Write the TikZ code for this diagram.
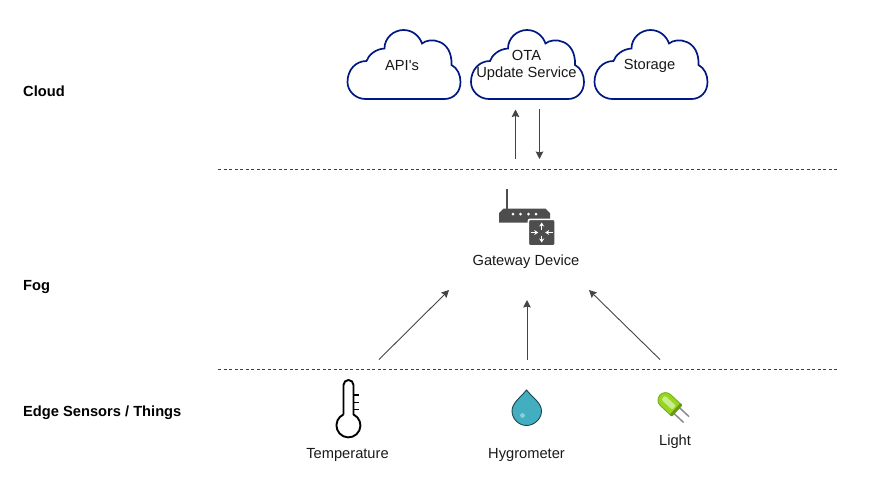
\documentclass[tikz,border=0pt]{standalone}
\usepackage{fontspec}
\newfontfamily\labelfont{Liberation Sans}
\usepackage{xcolor}
\definecolor{cloudblue}{RGB}{0, 25, 130}
\definecolor{arrowgray}{RGB}{68, 68, 68}
\definecolor{icongray}{RGB}{77, 77, 77}
\definecolor{dropteal}{RGB}{67, 174, 192}
\definecolor{ledgreen}{RGB}{150, 215, 30}
\usetikzlibrary{arrows.meta, positioning, calc}
\begin{document}
\begin{tikzpicture}[
    x=1pt, y=-1pt,
    label/.style={font=\labelfont\fontsize{14.67}{17}\selectfont, align=center, inner sep=0pt, text=black!90},
    layer/.style={font=\labelfont\fontsize{14.67}{17}\selectfont\bfseries, anchor=west, inner sep=0pt},
    divider/.style={draw=black!75, line width=0.7pt, dash pattern=on 3pt off 2.5pt},
    arrow/.style={-{Stealth[inset=1pt,length=7.5pt,width=7.5pt]}, arrowgray, line width=0.9pt},
    cloudicon/.pic={
        \draw[cloudblue, fill=white, line width=1.7pt] (18,69)
            .. controls (8,69) and (0,61) .. (0,52)
            .. controls (0,40) and (8,31) .. (19,31)
            .. controls (21,25) and (28,19) .. (37,18.5)
            .. controls (37,8) and (46,0) .. (56,0)
            .. controls (65,0) and (72,6) .. (74.5,13.5)
            .. controls (82,7) and (105,9) .. (104,35)
            .. controls (110,38) and (113,45) .. (113,52)
            .. controls (113,62) and (106,69) .. (97,69)
            -- cycle;
    }
]
    \useasboundingbox (0,0) rectangle (887,499);

    % layers
    \node[layer] (cloud) at (23,91) {Cloud};
    \node[layer] (fog) at (23,287.5) {Fog};
    \node[layer] (edge) at (23,413) {Edge Sensors / Things};

    \coordinate (fogleft) at (218,169);
    \coordinate (fogright) at (838,169);
    \coordinate (edgeleft) at (218,369.5);
    \coordinate (edgeright) at (838,369.5);
    \draw[divider] (fogleft) -- (fogright);
    \draw[divider] (edgeleft) -- (edgeright);

    % clouds
    \pic at (347.5,30) {cloudicon};
    \pic at (471,30) {cloudicon};
    \pic at (594.5,30) {cloudicon};
    \node[label] (api) at (402,65.5) {API's};
    \node[label] (ota) at (526.5,65.5) {OTA\\Update Service};
    \node[label] (storage) at (649.5,65.5) {Storage};

    % gateway icon
    \draw[icongray, line width=2.4pt] (507,189) -- (507,210);
    \fill[icongray] (499,222.5) -- (499,213) -- (503.5,208.5) -- (545.5,208.5) -- (550,213) -- (550,222.5) -- cycle;
    \foreach \dotx in {513,520.5,528.5,536}
        \fill[white] (\dotx,214) circle (1.5);
    \fill[icongray, draw=white, line width=1.6pt, rounded corners=2pt] (528.3,219.3) rectangle (555.2,245.8);
    \foreach \fromy/\toy in {3/10,-3/-10}
        \draw[white, line width=1.3pt, -{Stealth[length=4pt,width=5pt]}] (541.7,232.5+\fromy) -- (541.7,232.5+\toy);
    \foreach \fromx/\tox in {11/3.5,-11/-3.5}
        \draw[white, line width=1.3pt, -{Stealth[length=4pt,width=5pt]}] (541.7+\fromx,232.5) -- (541.7+\tox,232.5);
    \node[label] (gateway) at (526,261.5) {Gateway Device};

    % sensors
    \draw[black, line width=1.9pt, line join=round] (343.5,414.5) -- (343.5,385)
        arc[start angle=180, end angle=360, radius=5]
        -- (353.5,414.5) arc[start angle=-65, end angle=245, radius=12];
    \foreach \ticky in {395,402.5,409.5}
        \draw[black, line width=1.9pt] (353.5,\ticky) -- (359,\ticky);
    \node[label] (temperature) at (347.5,454.5) {Temperature};

    \draw[black!60!dropteal, fill=dropteal, line width=0.9pt] (526.5,390)
        .. controls (520,398) and (512,403) .. (512,411)
        .. controls (512,419) and (519,425.5) .. (526.5,425.5)
        .. controls (534,425.5) and (541.5,419) .. (541.5,411)
        .. controls (541.5,403) and (533,398) .. (526.5,390) -- cycle;
    \fill[dropteal!60!white] (522.5,415.5) circle (2.4);
    \node[label] (hygrometer) at (526.5,454.5) {Hygrometer};

    \begin{scope}[shift={(660,395)}, rotate=-43]
        \draw[gray!90, line width=1.5pt] (22,-4) -- (36,-4);
        \draw[gray!90, line width=1.5pt] (22,4) -- (36,4);
        \draw[ledgreen!80!black, fill=ledgreen, line width=0.9pt] (22,-7.5) -- (7.5,-7.5)
            arc[start angle=270, end angle=90, radius=7.5] -- (22,7.5) -- cycle;
        \fill[ledgreen!50!white, rounded corners=2pt] (4,-3) rectangle (19,2.5);
        \fill[ledgreen!70!black, rounded corners=1pt] (20.5,-8) rectangle (23.5,8);
    \end{scope}
    \node[label] (light) at (675,441.5) {Light};

    % connectors
    \coordinate (gwup) at (515.5,159);
    \coordinate (otadown) at (515.5,109.5);
    \coordinate (otaup) at (539.5,109);
    \coordinate (gwdown) at (539.5,159);
    \draw[arrow] (gwup) -- (otadown);
    \draw[arrow] (otaup) -- (gwdown);

    \coordinate (tempout) at (379,359.5);
    \coordinate (tempin) at (449,290);
    \coordinate (hygroout) at (527,360);
    \coordinate (hygroin) at (527,300);
    \coordinate (lightout) at (660,359.5);
    \coordinate (lightin) at (589,290);
    \draw[arrow] (tempout) -- (tempin);
    \draw[arrow] (hygroout) -- (hygroin);
    \draw[arrow] (lightout) -- (lightin);
\end{tikzpicture}
\end{document}
